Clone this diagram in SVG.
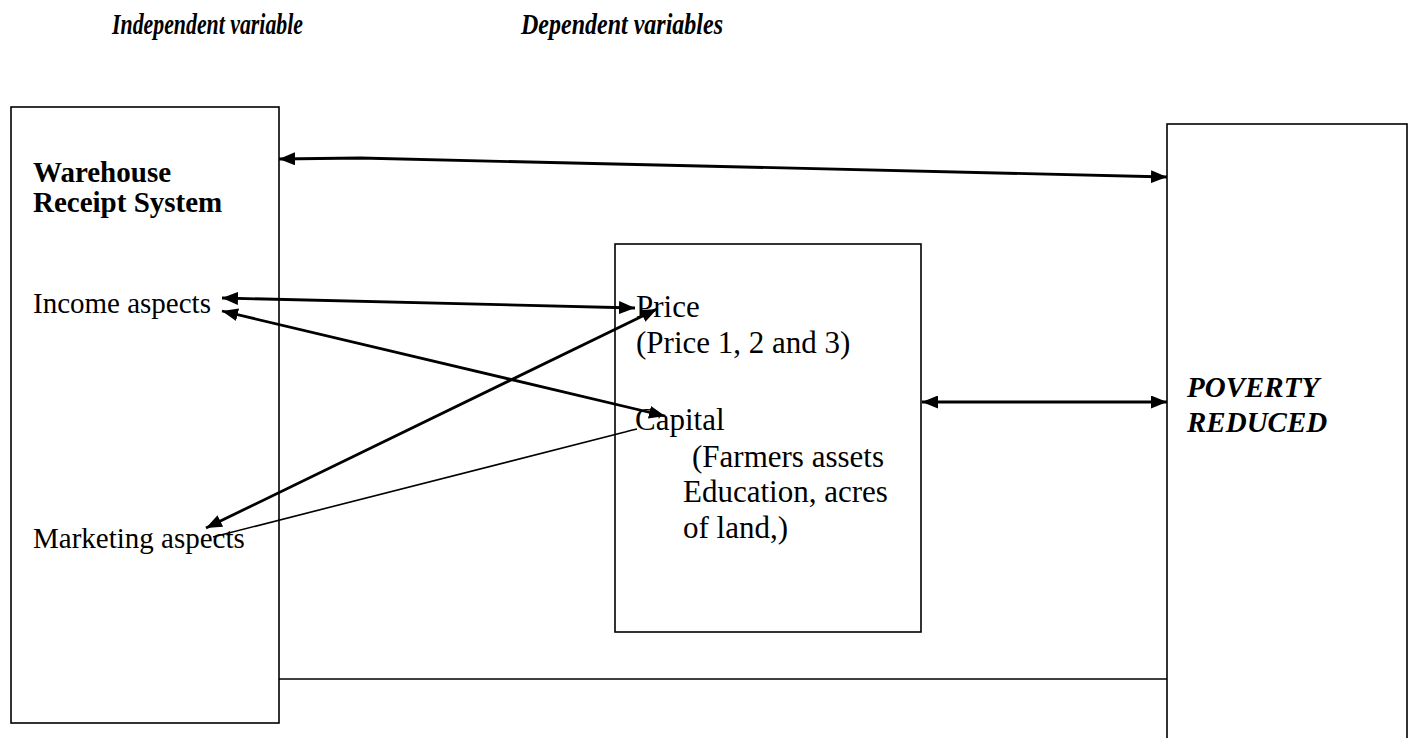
<svg xmlns="http://www.w3.org/2000/svg" width="1413" height="738" viewBox="0 0 1413 738">
<style>
.box{fill:#fff;stroke:#000;stroke-width:1.6}
.t{font-family:"Liberation Serif","Times New Roman",serif;font-size:29px;fill:#000}
.tm{font-family:"Liberation Serif","Times New Roman",serif;font-size:31px;fill:#000}
.b{font-weight:bold}
.bi{font-weight:bold;font-style:italic}
.c{fill:none;stroke:#000;stroke-width:2.8}
.thin{fill:none;stroke:#000;stroke-width:1.6}
</style>
<defs>
<marker id="ah" viewBox="0 0 16 13" refX="16" refY="6.5" markerWidth="16" markerHeight="13" markerUnits="userSpaceOnUse" orient="auto-start-reverse">
<path d="M0,0 L16,6.5 L0,13 Z" fill="#000"/>
</marker>
</defs>
<rect width="1413" height="738" fill="#fff"/>
<g id="headers">
<text class="t bi" x="112" y="34" font-size="28" textLength="191" lengthAdjust="spacingAndGlyphs">Independent variable</text>
<text class="t bi" x="521" y="34" font-size="28" textLength="202" lengthAdjust="spacingAndGlyphs">Dependent variables</text>
</g>
<g id="wrs">
<rect class="box" x="11" y="107" width="268" height="616"/>
<text class="t b" x="33" y="182">Warehouse</text>
<text class="t b" x="33" y="212">Receipt System</text>
<text class="t" x="33" y="313">Income aspects</text>
<text class="t" x="33" y="548">Marketing aspects</text>
</g>
<g id="dependent">
<rect class="box" x="615" y="244" width="306" height="388"/>
<text class="tm" x="636" y="317">Price</text>
<text class="tm" x="636" y="353">(Price 1, 2 and 3)</text>
<text class="tm" x="635" y="430">Capital</text>
<text class="tm" x="692" y="467">(Farmers assets</text>
<text class="tm" x="683" y="502">Education, acres</text>
<text class="tm" x="683" y="538">of land,)</text>
</g>
<g id="poverty">
<rect class="box" x="1167" y="124" width="240" height="640"/>
<text class="t bi" x="1187" y="397">POVERTY</text>
<text class="t bi" x="1187" y="432">REDUCED</text>
</g>
<g id="connectors">
<path class="c" d="M279,159 L360,158 L1167,177" marker-start="url(#ah)" marker-end="url(#ah)"/>
<path class="c" d="M222,298 L635,308" marker-start="url(#ah)" marker-end="url(#ah)"/>
<path class="c" d="M222,311 L665,416" marker-start="url(#ah)" marker-end="url(#ah)"/>
<path class="c" d="M657,309 L206,528" marker-start="url(#ah)" marker-end="url(#ah)"/>
<path class="thin" d="M637,429 Q632,430 625,432 L213,537"/>
<path class="c" d="M922,402 L1167,402" marker-start="url(#ah)" marker-end="url(#ah)"/>
<path class="thin" d="M279,679 L1167,679" stroke-width="2"/>
</g>
</svg>
